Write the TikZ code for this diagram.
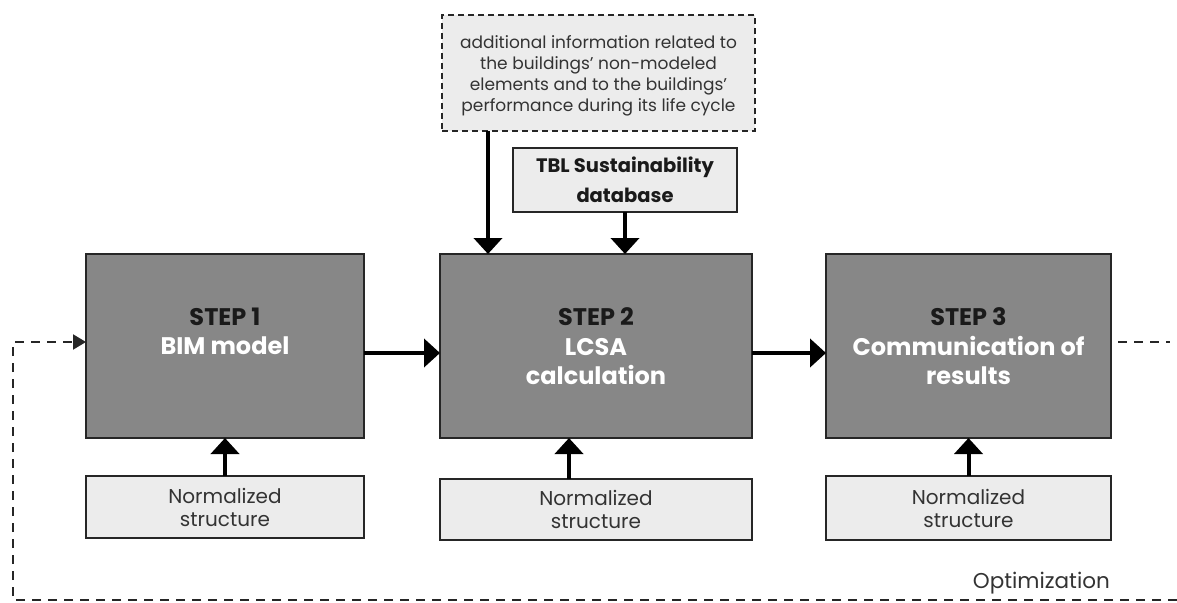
\documentclass[tikz,border=0pt]{standalone}
\usepackage{fontspec}
\setmainfont{Poppins}
\usetikzlibrary{arrows.meta}
\definecolor{darkfill}{HTML}{878787}
\definecolor{lightfill}{HTML}{ECECEC}
\definecolor{textdark}{HTML}{1A1A1A}
\definecolor{textgray}{HTML}{333333}
\begin{document}
\begin{tikzpicture}[x=1pt,y=-1pt,
  stepbox/.style={draw=black!85, line width=2pt, fill=darkfill, inner sep=0pt, outer sep=0pt},
  lightbox/.style={draw=black!85, line width=2pt, fill=lightfill, inner sep=0pt, outer sep=0pt},
  infobox/.style={draw=black!85, line width=2pt, dash pattern=on 6pt off 4pt, fill=lightfill, inner sep=0pt, outer sep=0pt},
  steptext/.style={anchor=north, align=center, inner sep=0pt, font=\bfseries\fontsize{24}{29.5}\selectfont},
  normtext/.style={align=center, inner sep=0pt, text=textgray, font=\fontsize{20}{23}\selectfont},
  bigarrow/.style={line width=4pt, -{Triangle[width=28pt,length=16pt]}},
  loopline/.style={line width=2pt, dash pattern=on 9pt off 7pt, draw=black!85}
]
\useasboundingbox (0,0) rectangle (1177,602);

% step boxes
\node[stepbox, minimum width=278pt, minimum height=184pt] (s1) at (225,346) {};
\node[stepbox, minimum width=312pt, minimum height=184pt] (s2) at (596,346) {};
\node[stepbox, minimum width=285pt, minimum height=184pt] (s3) at (968.5,346) {};

\node[steptext] (s1t) at (225,307.5) {\textcolor{textdark}{STEP 1}\\\textcolor{white}{BIM model}};
\node[steptext] (s2t) at (596,307.5) {\textcolor{textdark}{STEP 2}\\\textcolor{white}{LCSA}\\\textcolor{white}{calculation}};
\node[steptext] (s3t) at (968.5,307.5) {\textcolor{textdark}{STEP 3}\\\textcolor{white}{Communication of}\\\textcolor{white}{results}};

% normalized structure boxes
\node[lightbox, minimum width=278pt, minimum height=62pt] (n1) at (225,507) {};
\node[lightbox, minimum width=312pt, minimum height=61pt] (n2) at (596,509.5) {};
\node[lightbox, minimum width=285pt, minimum height=64pt] (n3) at (968.5,508) {};
\node[normtext] (n1t) at (n1) {Normalized\\structure};
\node[normtext] (n2t) at (n2) {Normalized\\structure};
\node[normtext] (n3t) at (n3) {Normalized\\structure};

% top inputs
\node[infobox, minimum width=313pt, minimum height=116pt] (info) at (598.5,73) {};
\node[align=center, inner sep=0pt, text=textgray, font=\fontsize{17}{21}\selectfont] (infot) at ([yshift=-3pt]info.center)
  {additional information related to\\the buildings’ non-modeled\\elements and to the buildings’\\performance during its life cycle};
\node[lightbox, minimum width=224pt, minimum height=64pt] (tbl) at (625,180) {};
\node[align=center, inner sep=0pt, text=textdark, font=\bfseries\fontsize{19.5}{30}\selectfont] (tblt) at (tbl) {TBL Sustainability\\database};

% helper coordinates
\coordinate (mid) at (0,353);
\coordinate (infox) at (488,0);
\coordinate (n2x) at (569,0);
\coordinate (loopy) at (0,342);
\coordinate (bl) at (13,600);
\coordinate (br) at (1177,600);
\coordinate (stubend) at (1170,342);

% arrows
\draw[bigarrow] (s1.east |- mid) -- (s2.west |- mid);
\draw[bigarrow] (s2.east |- mid) -- (s3.west |- mid);
\draw[bigarrow] (info.south -| infox) -- (s2.north -| infox);
\draw[bigarrow] (tbl.south) -- (s2.north -| tbl.south);
\draw[bigarrow] (n1.north) -- (s1.south);
\draw[bigarrow] (n2.north -| n2x) -- (s2.south -| n2x);
\draw[bigarrow] (n3.north) -- (s3.south);

% optimization loop
\draw[loopline, -{Triangle[width=15pt,length=13pt]}] (br) -- (bl) |- (s1.west |- loopy);
\draw[loopline] ([xshift=7pt]s3.east |- loopy) -- (stubend);
\node[anchor=east, inner sep=0pt, text=textgray, font=\fontsize{21.5}{23}\selectfont] (opt) at (1110,583) {Optimization};
\end{tikzpicture}
\end{document}
